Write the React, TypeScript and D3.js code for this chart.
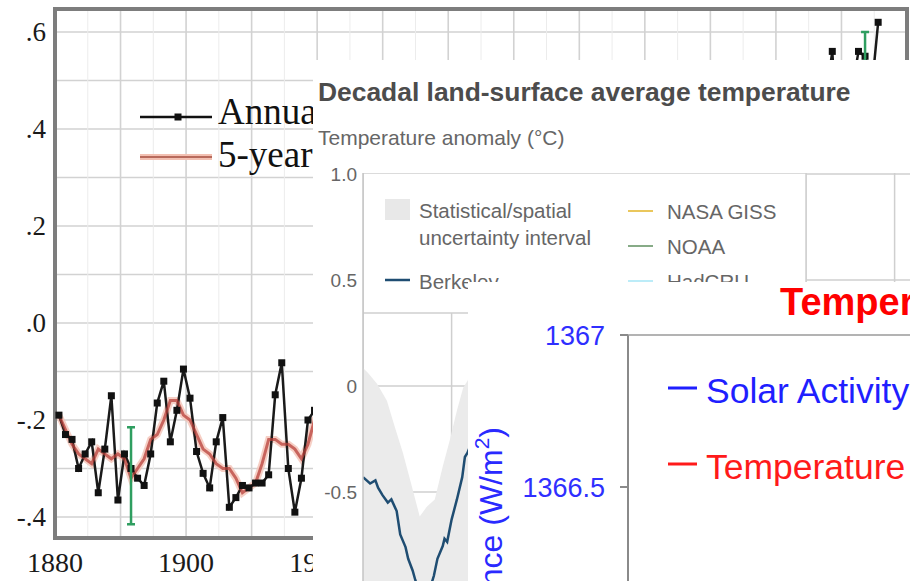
import React, { useEffect, useRef } from 'react'
import * as d3 from 'd3'

// ---- panel 1: global temperature (annual + 5-year mean) ----
const annualStart = 1880
const annualMean = [
  -0.19, -0.23, -0.24, -0.30, -0.27, -0.245, -0.35, -0.26, -0.15, -0.365,
  -0.27, -0.30, -0.32, -0.335, -0.27, -0.165, -0.12, -0.245, -0.18, -0.095,
  -0.155, -0.265, -0.31, -0.34, -0.245, -0.195, -0.38, -0.36, -0.335, -0.34,
  -0.33, -0.33, -0.313, -0.148, -0.082, -0.30, -0.39, -0.32, -0.20, -0.18,
  -0.17, -0.12, -0.22, -0.20, -0.19, -0.14, -0.03, -0.13, -0.14, -0.25,
  -0.08, -0.03, -0.08, -0.21, -0.05, -0.09, -0.06, 0.05, 0.07, 0.03,
  0.06, 0.08, 0.04, 0.06, 0.15, 0.03, -0.04, -0.03, -0.06, -0.06,
  -0.16, -0.04, 0.02, 0.10, -0.12, -0.12, -0.17, 0.06, 0.09, 0.05,
  -0.02, 0.06, 0.04, 0.07, -0.20, -0.11, -0.04, -0.01, -0.06, 0.07,
  0.03, -0.09, 0.01, 0.16, -0.08, -0.01, -0.11, 0.18, 0.07, 0.16,
  0.26, 0.32, 0.14, 0.31, 0.16, 0.12, 0.18, 0.32, 0.39, 0.27,
  0.45, 0.41, 0.22, 0.24, 0.31, 0.45, 0.35, 0.46, 0.56, 0.33,
  0.33, 0.48, 0.56, 0.55, 0.48, 0.62,
]
const fiveYearStart = 1880
const fiveYearMean = [
  -0.19, -0.22,
  -0.25, -0.27, -0.28, -0.29, -0.26, -0.27, -0.28, -0.27, -0.28, -0.32,
  -0.30, -0.28, -0.24, -0.23, -0.20, -0.16, -0.16, -0.19, -0.20, -0.23,
  -0.26, -0.27, -0.29, -0.30, -0.30, -0.32, -0.35, -0.34, -0.33, -0.29,
  -0.24, -0.24, -0.25, -0.25, -0.26, -0.28, -0.25, -0.20, -0.18, -0.18,
  -0.18, -0.17, -0.16, -0.14, -0.13, -0.14, -0.13, -0.13, -0.12, -0.13,
  -0.09, -0.09, -0.10, -0.07, -0.02, 0.00, 0.03, 0.06, 0.06, 0.05,
  0.08, 0.07, 0.05, 0.03, 0.01, -0.03, -0.07, -0.07, -0.06, -0.03,
  -0.04, -0.03, -0.06, -0.05, -0.05, -0.02, 0.00, 0.05, 0.04, 0.04,
  -0.01, -0.03, -0.05, -0.06, -0.08, -0.03, 0.00, -0.01, -0.01, 0.04,
  0.01, 0.00, -0.01, 0.03, 0.01, 0.06, 0.11, 0.20, 0.19, 0.24,
  0.24, 0.21, 0.18, 0.22, 0.23, 0.26, 0.32, 0.37, 0.35, 0.32,
  0.33, 0.33, 0.31, 0.36, 0.43, 0.43, 0.41, 0.43, 0.45, 0.45,
  0.48, 0.54,
]
const errorBarYears = [1891, 2003]
const errorBarLow = [-0.415, 0.49]
const errorBarHigh = [-0.215, 0.6]
const p1YTicks = [0.6, 0.4, 0.2, 0, -0.2, -0.4]
const p1YLabels = ['.6', '.4', '.2', '.0', '-.2', '-.4']
const p1XTicks = [1880, 1900, 1920, 1940, 1960, 1980, 2000]
const p1Legend = ['Annual Mean', '5-year Mean']

// ---- panel 2: Berkeley decadal land-surface ----
const berkeleyYears = [1750, 1754, 1757, 1758.5, 1761, 1764, 1766, 1769, 1771, 1774, 1775.5, 1778, 1779.5, 1782, 1785, 1788, 1790, 1792, 1795, 1796, 1797.5, 1800, 1803, 1806, 1807.5, 1809, 1812, 1815]
const berkeleyValues = [-0.43, -0.46, -0.445, -0.48, -0.515, -0.55, -0.535, -0.59, -0.70, -0.76, -0.815, -0.87, -0.915, -0.97, -1.0, -0.95, -0.895, -0.815, -0.755, -0.72, -0.735, -0.63, -0.535, -0.43, -0.335, -0.315, -0.25, -0.2]
const bandYears = [1750, 1753, 1758, 1763.5, 1768, 1772.5, 1776.5, 1782, 1786, 1790.5, 1795, 1799, 1803, 1806.5, 1809, 1812, 1815]
const bandUpper = [0.085, 0.06, 0.01, -0.07, -0.195, -0.315, -0.44, -0.615, -0.57, -0.535, -0.38, -0.255, -0.115, -0.01, 0.025, 0.08, 0.12]
const bandLower = [-1.0, -1.05, -1.1, -1.2, -1.3, -1.45, -1.55, -1.65, -1.7, -1.65, -1.55, -1.45, -1.3, -1.15, -1.05, -0.95, -0.9]
const p2YTicks = [1.0, 0.5, 0, -0.5, -1.0]
const p2YLabels = ['1.0', '0.5', '0', '-0.5', '-1.0']
const p2XGrid = [1750, 1800, 1850, 1900, 1950, 2000, 2050]
const p2LegendLeft = ['Statistical/spatial', 'uncertainty interval', 'Berkeley']
const p2LegendRight = ['NASA GISS', 'NOAA', 'HadCRU']
const p2LegendColors = ['#e3b526', '#5f8f5f', '#a6e6f6']

// ---- panel 3: solar activity vs temperature ----
const p3YTicks = [1367, 1366.5]
const p3YLabels = ['1367', '1366.5']
const p3Legend = ['Solar Activity', 'Temperature']
const p3LegendColors = ['#1f1fff', '#ff1a1a']

const W = 910
const H = 581

const App: React.FC = () => {
  const svgRef = useRef<SVGSVGElement>(null)

  useEffect(() => {
    const svg = d3.select(svgRef.current).attr('width', W).attr('height', H)
    svg.selectAll('*').remove()
    const defs = svg.append('defs')
    const clip = (id: string, x: number, y: number, w: number, h: number) =>
      defs.append('clipPath').attr('id', id).append('rect').attr('x', x).attr('y', y).attr('width', w).attr('height', h)
    clip('p1plot', 55, 9, 852, 529)
    clip('p2', 313, 60, 597, 521)
    clip('p2plot', 363, 173, 547, 408)
    clip('p3', 468, 282, 442, 299)

    // ================= panel 1 =================
    const serif = '"Liberation Serif", "Times New Roman", serif'
    const x1 = d3.scaleLinear().domain([1880, 2010]).range([55, 907])
    const y1 = d3.scaleLinear().domain([-0.4, 0.6]).range([517, 32])
    const px = (yr: number) => x1(yr + 0.6)
    const p1 = svg.append('g')
    p1.append('rect').attr('width', W).attr('height', H).attr('fill', '#fff')

    const grid1 = p1.append('g').attr('stroke', '#d2d2d2').attr('stroke-width', 1.6)
    d3.range(-4, 7).map((k) => k / 10).forEach((v) => {
      grid1.append('line').attr('x1', 55).attr('x2', 907).attr('y1', y1(v)).attr('y2', y1(v))
    })
    d3.range(1890, 2010, 10).forEach((yr) => {
      grid1.append('line').attr('x1', x1(yr)).attr('x2', x1(yr)).attr('y1', 9).attr('y2', 538)
    })
    d3.range(1885, 2010, 10).forEach((yr) => {
      grid1.append('line').attr('x1', x1(yr)).attr('x2', x1(yr)).attr('y1', 9).attr('y2', 538)
        .attr('stroke', '#ececec').attr('stroke-width', 1)
    })

    p1.append('rect').attr('x', 55).attr('y', 9).attr('width', 852).attr('height', 529)
      .attr('fill', 'none').attr('stroke', '#7d7d7d').attr('stroke-width', 4)

    p1.selectAll('text.yl').data(p1YTicks).enter().append('text')
      .attr('x', 46).attr('y', (d) => y1(d)).attr('dy', '0.35em')
      .attr('text-anchor', 'end').attr('font-family', serif).attr('font-size', 27).attr('fill', '#1a1a1a')
      .text((d, i) => p1YLabels[i])
    p1.selectAll('text.xl').data(p1XTicks).enter().append('text')
      .attr('x', (d) => x1(d)).attr('y', 572)
      .attr('text-anchor', 'middle').attr('font-family', serif).attr('font-size', 28).attr('fill', '#1a1a1a')
      .text((d) => String(d))

    // legend
    p1.append('line').attr('x1', 140).attr('x2', 212).attr('y1', 117).attr('y2', 117).attr('stroke', '#111').attr('stroke-width', 2.4)
    p1.append('rect').attr('x', 174.5).attr('y', 113.5).attr('width', 7).attr('height', 7).attr('fill', '#111')
    p1.append('line').attr('x1', 140).attr('x2', 212).attr('y1', 157).attr('y2', 157).attr('stroke', '#f2c0b2').attr('stroke-width', 6)
    p1.append('line').attr('x1', 140).attr('x2', 212).attr('y1', 157).attr('y2', 157).attr('stroke', '#b86a5c').attr('stroke-width', 2)
    p1.selectAll('text.lg').data(p1Legend).enter().append('text')
      .attr('x', 218).attr('y', (d, i) => 124 + i * 43)
      .attr('font-family', serif).attr('font-size', 37).attr('fill', '#111')
      .text((d) => d)

    const data1 = p1.append('g').attr('clip-path', 'url(#p1plot)')
    const five = fiveYearMean.map((v, i) => ({ yr: fiveYearStart + i, v }))
    const annual = annualMean.map((v, i) => ({ yr: annualStart + i, v }))
    const line1 = d3.line<{ yr: number; v: number }>().x((d) => px(d.yr)).y((d) => y1(d.v))
    data1.append('path').attr('d', line1(five)).attr('fill', 'none').attr('stroke', '#f4c3b6').attr('stroke-width', 7).attr('opacity', 0.8)
    data1.append('path').attr('d', line1(annual)).attr('fill', 'none').attr('stroke', '#1a1a1a').attr('stroke-width', 2.5)
    data1.append('path').attr('d', line1(five)).attr('fill', 'none').attr('stroke', '#b8403a').attr('stroke-width', 3).attr('opacity', 0.75)
    data1.selectAll('rect.pt').data(annual).enter().append('rect')
      .attr('x', (d) => px(d.yr) - 3.5).attr('y', (d) => y1(d.v) - 3.5)
      .attr('width', 7).attr('height', 7).attr('fill', '#111')
    const eb = data1.append('g').attr('stroke', '#2f9e60').attr('stroke-width', 2.5)
    errorBarYears.forEach((yr, i) => {
      const x = px(yr)
      eb.append('line').attr('x1', x).attr('x2', x).attr('y1', y1(errorBarLow[i])).attr('y2', y1(errorBarHigh[i]))
      eb.append('line').attr('x1', x - 4).attr('x2', x + 4).attr('y1', y1(errorBarLow[i])).attr('y2', y1(errorBarLow[i]))
      eb.append('line').attr('x1', x - 4).attr('x2', x + 4).attr('y1', y1(errorBarHigh[i])).attr('y2', y1(errorBarHigh[i]))
    })

    // ================= panel 2 =================
    const sans = '"Liberation Sans", Arial, Helvetica, sans-serif'
    const p2 = svg.append('g').attr('clip-path', 'url(#p2)')
    p2.append('rect').attr('x', 313).attr('y', 60).attr('width', 597).attr('height', 521).attr('fill', '#fff')
    p2.append('text').attr('x', 318).attr('y', 101).attr('font-family', sans).attr('font-weight', 'bold')
      .attr('font-size', 26.4).attr('fill', '#4c4c4c').text('Decadal land-surface average temperature')
    p2.append('text').attr('x', 318).attr('y', 145).attr('font-family', sans)
      .attr('font-size', 21).attr('fill', '#666').text('Temperature anomaly (°C)')

    const x2 = d3.scaleLinear().domain([1750, 2050]).range([363, 894.6])
    const y2 = d3.scaleLinear().domain([-0.5, 1.0]).range([492, 174])
    const plot2 = p2.append('g').attr('clip-path', 'url(#p2plot)')
    const grid2 = plot2.append('g').attr('stroke', '#cfcfcf').attr('stroke-width', 1.5)
    p2YTicks.forEach((v) => grid2.append('line').attr('x1', 363).attr('x2', 910).attr('y1', y2(v)).attr('y2', y2(v)))
    p2XGrid.forEach((yr) => grid2.append('line').attr('x1', x2(yr)).attr('x2', x2(yr)).attr('y1', 173).attr('y2', 581))

    const band = bandYears.map((yr, i) => ({ yr, hi: bandUpper[i], lo: bandLower[i] }))
    const area2 = d3.area<{ yr: number; hi: number; lo: number }>()
      .x((d) => x2(d.yr)).y0((d) => y2(d.lo)).y1((d) => y2(d.hi))
    plot2.append('path').attr('d', area2(band)).attr('fill', '#ebebeb')
    const berk = berkeleyYears.map((yr, i) => ({ yr, v: berkeleyValues[i] }))
    const line2 = d3.line<{ yr: number; v: number }>().x((d) => x2(d.yr)).y((d) => y2(d.v))
    plot2.append('path').attr('d', line2(berk)).attr('fill', 'none').attr('stroke', '#1f4d72').attr('stroke-width', 2.5)

    // legend box
    plot2.append('rect').attr('x', 363).attr('y', 173).attr('width', 443).attr('height', 140)
      .attr('fill', '#fff').attr('stroke', '#cfcfcf').attr('stroke-width', 1.5)
    p2.append('line').attr('x1', 363).attr('x2', 363).attr('y1', 173).attr('y2', 581).attr('stroke', '#c4c4c4').attr('stroke-width', 1.5)

    p2.selectAll('text.y2').data(p2YTicks).enter().append('text')
      .attr('x', 357).attr('y', (d) => y2(d)).attr('dy', '0.36em').attr('text-anchor', 'end')
      .attr('font-family', sans).attr('font-size', 19).attr('fill', '#666')
      .text((d, i) => p2YLabels[i])

    const leg2 = p2.append('g').attr('font-family', sans).attr('font-size', 20.5).attr('fill', '#666')
    leg2.append('rect').attr('x', 385).attr('y', 199).attr('width', 25).attr('height', 21).attr('fill', '#e8e8e8')
    leg2.append('line').attr('x1', 385).attr('x2', 410).attr('y1', 280).attr('y2', 280).attr('stroke', '#1f4d72').attr('stroke-width', 2.5)
    const leftY = [211, 238, 282]
    p2LegendLeft.forEach((t, i) => leg2.append('text').attr('x', 419).attr('y', leftY[i]).attr('dy', '0.36em').text(t))
    const rightY = [211, 246, 281]
    p2LegendRight.forEach((t, i) => {
      leg2.append('line').attr('x1', 628).attr('x2', 653).attr('y1', rightY[i]).attr('y2', rightY[i])
        .attr('stroke', p2LegendColors[i]).attr('stroke-width', 1.5)
      leg2.append('text').attr('x', 667).attr('y', rightY[i] + 1).attr('dy', '0.36em').text(t)
    })

    // ================= panel 3 =================
    const p3 = svg.append('g').attr('clip-path', 'url(#p3)')
    p3.append('rect').attr('x', 468).attr('y', 282).attr('width', 442).attr('height', 299).attr('fill', '#fff')
    p3.append('text').attr('x', 780).attr('y', 315).attr('font-family', sans).attr('font-weight', 'bold')
      .attr('font-size', 38).attr('fill', '#ff0000').text('Temperature vs Solar Activity')

    const y3 = d3.scaleLinear().domain([1366.5, 1367]).range([487, 335])
    p3.append('line').attr('x1', 628).attr('x2', 628).attr('y1', 335).attr('y2', 581).attr('stroke', '#8a8a8a').attr('stroke-width', 2)
    p3.append('line').attr('x1', 620).attr('x2', 910).attr('y1', 335).attr('y2', 335).attr('stroke', '#9a9a9a').attr('stroke-width', 1.5)
    p3YTicks.forEach((v) => p3.append('line').attr('x1', 620).attr('x2', 628).attr('y1', y3(v)).attr('y2', y3(v))
      .attr('stroke', '#8a8a8a').attr('stroke-width', 2))
    p3.selectAll('text.y3').data(p3YTicks).enter().append('text')
      .attr('x', 605).attr('y', (d) => y3(d)).attr('dy', '0.36em').attr('text-anchor', 'end')
      .attr('font-family', sans).attr('font-size', 27).attr('fill', '#2f2fff')
      .text((d, i) => p3YLabels[i])

    const yt = p3.append('text').attr('transform', 'translate(502,427) rotate(-90)')
      .attr('text-anchor', 'end').attr('font-family', sans).attr('font-size', 32).attr('fill', '#2a2aff')
    yt.append('tspan').text('Total Solar Irradiance (W/m')
    yt.append('tspan').attr('dy', -13).attr('font-size', 21).text('2')
    yt.append('tspan').attr('dy', 13).text(')')

    const legY = [388, 464]
    p3Legend.forEach((t, i) => {
      p3.append('line').attr('x1', 668).attr('x2', 697).attr('y1', legY[i]).attr('y2', legY[i])
        .attr('stroke', p3LegendColors[i]).attr('stroke-width', 3)
      p3.append('text').attr('x', 706).attr('y', legY[i] + 2).attr('dy', '0.36em')
        .attr('font-family', sans).attr('font-size', 35.5).attr('fill', p3LegendColors[i]).text(t)
    })
  }, [])

  return (
    <div>
      <svg ref={svgRef} style={{ position: 'absolute', left: 0, top: 0 }} />
    </div>
  )
}

export default App
